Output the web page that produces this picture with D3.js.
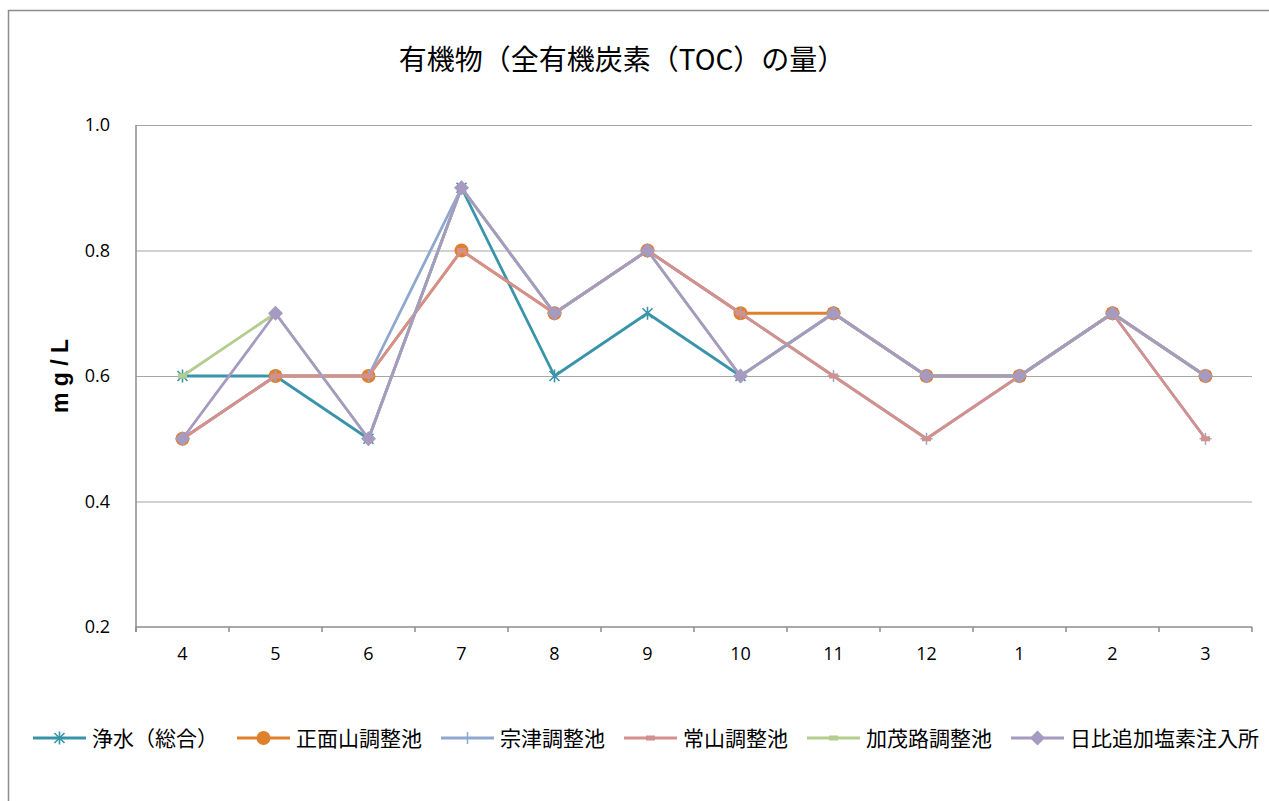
<!DOCTYPE html>
<html>
<head>
<meta charset="utf-8">
<script src="https://cdn.jsdelivr.net/npm/d3@7"></script>
<style>
  body { margin: 0; background: #fff; }
  svg text { font-family: 'Noto Sans CJK JP', 'Noto Sans', sans-serif; }
</style>
</head>
<body>
<svg id="chart" width="1269" height="801"></svg>
<script>
var months = ['4', '5', '6', '7', '8', '9', '10', '11', '12', '1', '2', '3'];
var yTicks = [0.2, 0.4, 0.6, 0.8, 1.0];

// values (mg/L)
var jousui   = [0.6, 0.6, 0.5, 0.9, 0.6, 0.7, 0.6, 0.7, 0.6, 0.6, 0.7, 0.6];
var shomen   = [0.5, 0.6, 0.6, 0.8, 0.7, 0.8, 0.7, 0.7, 0.6, 0.6, 0.7, 0.6];
var soutsu   = [0.5, 0.6, 0.6, 0.9, 0.7, 0.8, 0.7, 0.6, 0.5, 0.6, 0.7, 0.5];
var tsuneyama = [0.5, 0.6, 0.6, 0.8, 0.7, 0.8, 0.7, 0.6, 0.5, 0.6, 0.7, 0.5];
var kamoji   = [0.6, 0.7, 0.5, 0.9, 0.7, 0.8, 0.6, 0.7, 0.6, 0.6, 0.7, 0.6];
var hibi     = [0.5, 0.7, 0.5, 0.9, 0.7, 0.8, 0.6, 0.7, 0.6, 0.6, 0.7, 0.6];

var seriesNames = ['浄水（総合）', '正面山調整池', '宗津調整池', '常山調整池', '加茂路調整池', '日比追加塩素注入所'];

var series = [
  { name: seriesNames[0], values: jousui, color: '#3994aa', marker: 'star' },
  { name: seriesNames[1], values: shomen, color: '#e0802f', marker: 'circle' },
  { name: seriesNames[2], values: soutsu, color: '#8fa8d0', marker: 'plus' },
  { name: seriesNames[3], values: tsuneyama, color: '#d4908d', marker: 'dash' },
  { name: seriesNames[4], values: kamoji, color: '#b3cd8e', marker: 'dash' },
  { name: seriesNames[5], values: hibi, color: '#a69ac0', marker: 'diamond' }
];

var svg = d3.select('#chart');

var plot = { left: 136, right: 1252, top: 125, bottom: 627 };

var x = d3.scaleBand().domain(months).range([plot.left, plot.right]).padding(0);
var y = d3.scaleLinear().domain([0.2, 1.0]).range([plot.bottom, plot.top]);

function cx(m) { return x(m) + x.bandwidth() / 2; }

// outer chart border
svg.append('rect')
  .attr('x', 8.5).attr('y', 10.5)
  .attr('width', 1400).attr('height', 1000)
  .attr('fill', 'none')
  .attr('stroke', '#8c8c8c')
  .attr('stroke-width', 1.5);

// title
svg.append('text')
  .attr('x', 622).attr('y', 70)
  .attr('text-anchor', 'middle')
  .style('font-size', '28px')
  .style('fill', '#000')
  .text('有機物（全有機炭素（TOC）の量）');

// gridlines
var grid = svg.append('g')
  .attr('transform', 'translate(' + plot.left + ',0)')
  .call(d3.axisLeft(y).tickValues(yTicks.slice(1)).tickSize(-(plot.right - plot.left)).tickFormat(''));
grid.select('.domain').remove();
grid.selectAll('line').attr('stroke', '#a6a6a6').attr('stroke-width', 1.2);

// y axis
var yAxis = svg.append('g')
  .attr('transform', 'translate(' + plot.left + ',0)')
  .call(d3.axisLeft(y).tickValues(yTicks).tickSize(0).tickPadding(26).tickFormat(d3.format('.1f')));
yAxis.select('.domain').remove();
yAxis.selectAll('text').style('font-size', '18px').style('fill', '#000')
  .style('font-family', "'Open Sans', 'Noto Sans', sans-serif");

svg.append('line')
  .attr('x1', plot.left).attr('x2', plot.left)
  .attr('y1', plot.top).attr('y2', plot.bottom + 5)
  .attr('stroke', '#8c8c8c').attr('stroke-width', 1.5);

// x axis
var xAxis = svg.append('g')
  .attr('transform', 'translate(0,' + plot.bottom + ')')
  .call(d3.axisBottom(x).tickSize(0).tickPadding(20));
xAxis.select('.domain').remove();
xAxis.selectAll('text').style('font-size', '18px').style('fill', '#000')
  .style('font-family', "'Open Sans', 'Noto Sans', sans-serif");

svg.append('line')
  .attr('x1', plot.left).attr('x2', plot.right)
  .attr('y1', plot.bottom).attr('y2', plot.bottom)
  .attr('stroke', '#8c8c8c').attr('stroke-width', 1.5);

var bounds = months.map(function (m) { return x(m); }).concat([plot.right]);
svg.selectAll('.xtick').data(bounds).enter().append('line')
  .attr('class', 'xtick')
  .attr('x1', function (d) { return d; }).attr('x2', function (d) { return d; })
  .attr('y1', plot.bottom).attr('y2', plot.bottom + 5)
  .attr('stroke', '#8c8c8c').attr('stroke-width', 1.5);

// y axis title
svg.append('text')
  .attr('transform', 'translate(68,' + ((plot.top + plot.bottom) / 2) + ') rotate(-90)')
  .attr('text-anchor', 'middle')
  .style('font-size', '23px')
  .style('font-weight', 'bold')
  .style('font-family', "'Liberation Sans', Arial, sans-serif")
  .style('fill', '#000')
  .text('m g / L');

function drawMarker(g, type, color, px, py) {
  switch (type) {
    case 'star':
      g.append('path')
        .attr('d', 'M' + (px - 5) + ',' + (py - 5) + 'L' + (px + 5) + ',' + (py + 5) +
          'M' + (px - 5) + ',' + (py + 5) + 'L' + (px + 5) + ',' + (py - 5) +
          'M' + px + ',' + (py - 6.5) + 'L' + px + ',' + (py + 6.5))
        .attr('stroke', color).attr('stroke-width', 1.6).attr('fill', 'none');
      break;
    case 'circle':
      g.append('circle').attr('cx', px).attr('cy', py).attr('r', 7).attr('fill', color);
      break;
    case 'plus':
      g.append('path')
        .attr('d', 'M' + (px - 6) + ',' + py + 'L' + (px + 6) + ',' + py +
          'M' + px + ',' + (py - 6) + 'L' + px + ',' + (py + 6))
        .attr('stroke', color).attr('stroke-width', 1.5).attr('fill', 'none');
      break;
    case 'dash':
      g.append('rect').attr('x', px - 4.5).attr('y', py - 2.5).attr('width', 9).attr('height', 5)
        .attr('fill', color);
      break;
    case 'diamond':
      g.append('path')
        .attr('d', 'M' + px + ',' + (py - 7.5) + 'L' + (px + 7.5) + ',' + py +
          'L' + px + ',' + (py + 7.5) + 'L' + (px - 7.5) + ',' + py + 'Z')
        .attr('fill', color);
      break;
  }
}

var line = d3.line()
  .x(function (d, i) { return cx(months[i]); })
  .y(function (d) { return y(d); });

series.forEach(function (s) {
  var g = svg.append('g');
  g.append('path')
    .attr('d', line(s.values))
    .attr('fill', 'none')
    .attr('stroke', s.color)
    .attr('stroke-width', 2.8)
    .attr('stroke-linejoin', 'round');
  s.values.forEach(function (v, i) {
    drawMarker(g, s.marker, s.color, cx(months[i]), y(v));
  });
});

// legend
var legend = svg.append('g');
var lx = 33;
var ly = 738;
series.forEach(function (s) {
  var item = legend.append('g');
  item.append('line')
    .attr('x1', lx).attr('x2', lx + 53)
    .attr('y1', ly).attr('y2', ly)
    .attr('stroke', s.color).attr('stroke-width', 2.8);
  drawMarker(item, s.marker, s.color, lx + 26.5, ly);
  var t = item.append('text')
    .attr('x', lx + 59).attr('y', ly + 7.5)
    .style('font-size', '21px')
    .style('fill', '#000')
    .text(s.name);
  lx += 59 + t.node().getComputedTextLength() + 19;
});
</script>
</body>
</html>
